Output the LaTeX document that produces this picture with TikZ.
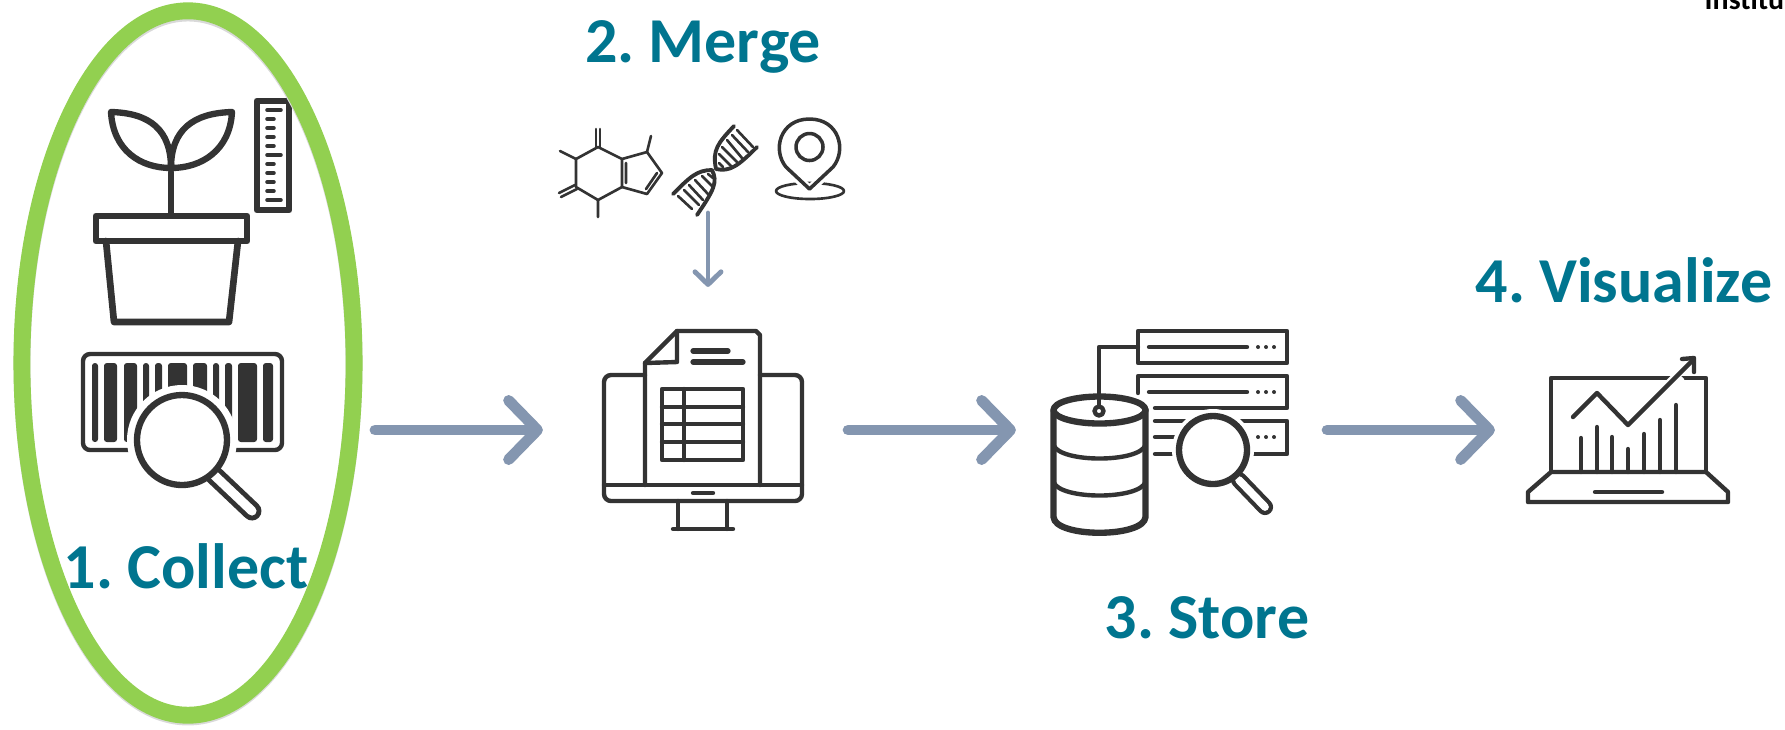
\documentclass[tikz,border=0pt]{standalone}
\usepackage{fontspec}
\setmainfont[WordSpace=0.65]{Carlito}
\usepackage{xcolor}
\usetikzlibrary{arrows.meta,positioning,calc,shapes.geometric}
\definecolor{stagecol}{HTML}{00758F}
\definecolor{arrowcol}{HTML}{8496B0}
\definecolor{iconcol}{HTML}{333333}
\definecolor{ringcol}{HTML}{92D050}

\begin{document}
\begin{tikzpicture}[
  x=0.01cm, y=-0.01cm,
  stage/.style={anchor=base, inner sep=0pt, text=stagecol, font=\fontsize{18.2}{20}\selectfont\bfseries},
  iconbox/.style={inner sep=0pt, outer sep=0pt},
  arrow/.style={-{Straight Barb[round,length=8.2pt,width=16.8pt]}, line width=3.1pt, line cap=round, draw=arrowcol},
  arrowthin/.style={-{Straight Barb[round,length=3.6pt,width=7.4pt]}, line width=1.4pt, line cap=round, draw=arrowcol},
  icon/.style={draw=iconcol, line width=1.25pt, line cap=round, line join=round},
  iconthick/.style={icon, line width=1.8pt},
  iconthin/.style={icon, line width=0.75pt},
]
\clip (0,0) rectangle (1785,729);

% --- Plant with ruler ---
\draw[iconthick] (171,172) -- (171,213);
\draw[iconthick] (111,112) .. controls (150,113) and (171,130) .. (171,168) .. controls (140,168) and (113,150) .. (111,112);
\draw[iconthick] (232,112) .. controls (193,113) and (171,130) .. (171,168) .. controls (202,168) and (230,150) .. (232,112);
\draw[iconthick, line width=1.9pt] (96,216) rectangle (247,241);
\draw[iconthick, line width=1.9pt] (106,241) -- (114,322) -- (229,322) -- (238,241);
\draw[iconthick, fill=white, line width=1.9pt] (257,101) rectangle (289,210);
\foreach \ty/\tx in {110/281,119/274,128/274,137/274,146/274,155/281,164/274,173/274,182/274,191/274,200/281}
  \draw[iconthin, line width=1pt] (267,\ty) -- (\tx,\ty);

% --- Barcode ---
\draw[icon, rounded corners=2pt] (83,354) rectangle (282,450);
\foreach \xa/\xb in {92/98,104/117,124/137,143/149,155/162,168/187,193/207,213/219,225/232,238/257,263/273}
  \fill[iconcol, rounded corners=0.8pt] (\xa,363) rectangle (\xb,442);
\fill[white] (182,440) circle[radius=55];
\draw[icon, line width=5.4pt] (214,475) -- (252,511);
\draw[white, line width=2.6pt, line cap=round] (214,475) -- (252,511);
\draw[iconthick, fill=white] (182,440) circle[radius=45];

% --- Ring and stage labels ---
\draw[draw=gray!30, line width=4.8pt] (188,365) ellipse[x radius=166, y radius=352];
\node[iconbox, ellipse, draw=ringcol, line width=4.8pt, minimum width=3.32cm, minimum height=7.04cm] (collect) at (188,363) {};
\node[stage] (collectlabel) at (186,588) {1. Collect};
\node[stage] (mergelabel) at (703,62) {2. Merge};
\node[stage] (storelabel) at (1207,638) {3. Store};
\node[stage] (visuallabel) at (1624,302) {4. Visualize};
\node[anchor=base west, inner sep=0pt, font=\fontsize{8.5}{10}\selectfont\bfseries] (institute) at (1704,9.5) {Institu};

% --- Molecule ---
\draw[iconthin] (598,147) -- (622,159) -- (622,187) -- (598,200) -- (576,187) -- (576,159) -- cycle;
\draw[iconthin] (622,159) -- (647,152) -- (662,173) -- (647,194) -- (622,187);
\draw[iconthin] (596,147) -- (596,129) (600,147) -- (600,129);
\draw[iconthin] (576,159) -- (560,151) (598,200) -- (598,217) (647,152) -- (651,136);
\draw[iconthin] (575,185) -- (559,193) (577,189) -- (561,197);
\draw[iconthin] (626,163) -- (626,183) (646,189) -- (657,173);

% --- Helix ---
\node[iconbox, minimum width=0.2cm, minimum height=1.06cm] (helix) at (708,160) {};
\draw[iconthin, line width=1.1pt] (673,194) .. controls (690,177) and (697,170) .. (712,170) .. controls (718,182) and (714,190) .. (697,215);
\draw[iconthin, line width=1.1pt] (734,126) .. controls (718,143) and (712,150) .. (716,169) .. controls (730,172) and (738,166) .. (757,147);
\foreach \xa/\ya/\xb/\yb in {678/196/692/209,684/190/699/205,689/185/703/200,695/180/708/194,702/176/713/187,708/174/713/178,737/130/753/147,732/135/748/152,727/140/742/158,722/147/737/162,719/154/732/167,719/163/723/167}
  \draw[iconthin] (\xa,\ya) -- (\xb,\yb);

% --- Map pin ---
\draw[iconthin] (810,191) ellipse[x radius=34, y radius=8];
\draw[white, line width=2.6pt] (786,167) -- (809.5,190) -- (833,167);
\draw[iconthin, line width=1pt] (809.5,189) -- (786,167) .. controls (772,150) and (780,119) .. (809.5,119) .. controls (839,119) and (847,150) .. (833,167) -- cycle;
\draw[iconthin, line width=1pt] (809.5,147) circle[radius=13.5];

% --- Screen with document ---
\node[iconbox, minimum width=3.05cm, minimum height=2.86cm] (screen) at (695.5,430) {};
\draw[icon, rounded corners=2pt] (645,375) -- (604,375) -- (604,501) -- (802,501) -- (802,375) -- (760,375);
\draw[icon] (604,485) -- (802,485);
\draw[icon] (693,493) -- (713,493);
\draw[icon] (678,501) -- (678,529) (727,501) -- (727,529) (673,529) -- (733,529);
\draw[icon] (645,485) -- (645,363) -- (677,331) -- (756,331) -- (760,335) -- (760,485);
\draw[icon] (677,331) -- (677,362) -- (645,363);
\draw[icon, line width=1.5pt] (693,351) -- (728,351) (693,362) -- (743,362);
\draw[icon] (662,389) rectangle (743,460);
\foreach \ry in {407,424,442}
  \draw[icon] (662,\ry) -- (743,\ry);
\draw[icon] (684,389) -- (684,460);

% --- Database with servers ---
\node[iconbox, minimum width=3.11cm, minimum height=2cm] (store) at (1171.5,430) {};
\draw[icon] (1138,331) rectangle (1287,363);
\draw[icon] (1099,406) -- (1099,347) -- (1138,347);
\draw[icon] (1138,393) -- (1138,376) -- (1287,376) -- (1287,408) -- (1155,408);
\draw[icon] (1155,421) -- (1287,421) -- (1287,454) -- (1155,454);
\draw[icon] (1155,437) -- (1200,437);
\foreach \ly in {347,392}
  \draw[icon] (1149,\ly) -- (1247,\ly);
\foreach \ly in {347,392,437}
  \foreach \lx in {1258,1266,1274}
    \fill[iconcol] (\lx,\ly) circle[radius=2];
\fill[white] (1213,450) circle[radius=41];
\draw[icon, line width=4.6pt] (1239,480) -- (1265,507);
\draw[white, line width=2.2pt, line cap=round] (1239,480) -- (1265,507);
\draw[iconthick, fill=white] (1213,450) circle[radius=34];
\draw[iconthick] (1099.5,410) ellipse[x radius=46, y radius=13.5];
\draw[iconthick] (1053.5,410) -- (1053.5,517) .. controls (1055,538) and (1144,538) .. (1145.5,517) -- (1145.5,410);
\draw[icon] (1053.5,445) .. controls (1060,463) and (1139,463) .. (1145.5,445);
\draw[icon] (1053.5,482) .. controls (1060,500) and (1139,500) .. (1145.5,482);
\draw[icon, fill=white] (1099,411) circle[radius=4.5];

% --- Laptop with chart ---
\node[iconbox, minimum width=2.3cm, minimum height=1.6cm] (laptop) at (1610,430) {};
\draw[icon] (1551,472) -- (1551,378) -- (1706,378) -- (1706,472);
\draw[icon] (1551,472) -- (1706,472) -- (1728,492) -- (1728,502) -- (1528,502) -- (1528,492) -- cycle;
\draw[icon] (1595,492) -- (1662,492);
\foreach \bx/\by in {1581/438,1597/427,1612/437,1628/449,1644/434,1660/420,1676/405}
  \draw[icon] (\bx,472) -- (\bx,\by);
\draw[white, line width=3.4pt, line cap=butt] (1662,393) -- (1680,375);
\draw[icon] (1573,417) -- (1597,393) -- (1628,425) -- (1693,360);
\draw[icon] (1682,359) -- (1694,358) -- (1694,372);

% --- Arrows between stages ---
\coordinate (collectout) at (375,430);
\draw[arrow] (collectout) -- (screen.west);
\draw[arrow] (screen.east) -- (store.west);
\draw[arrow] (store.east) -- (laptop.west);
\draw[arrowthin] (helix.south) -- (helix.south |- screen.north);

\end{tikzpicture}
\end{document}
